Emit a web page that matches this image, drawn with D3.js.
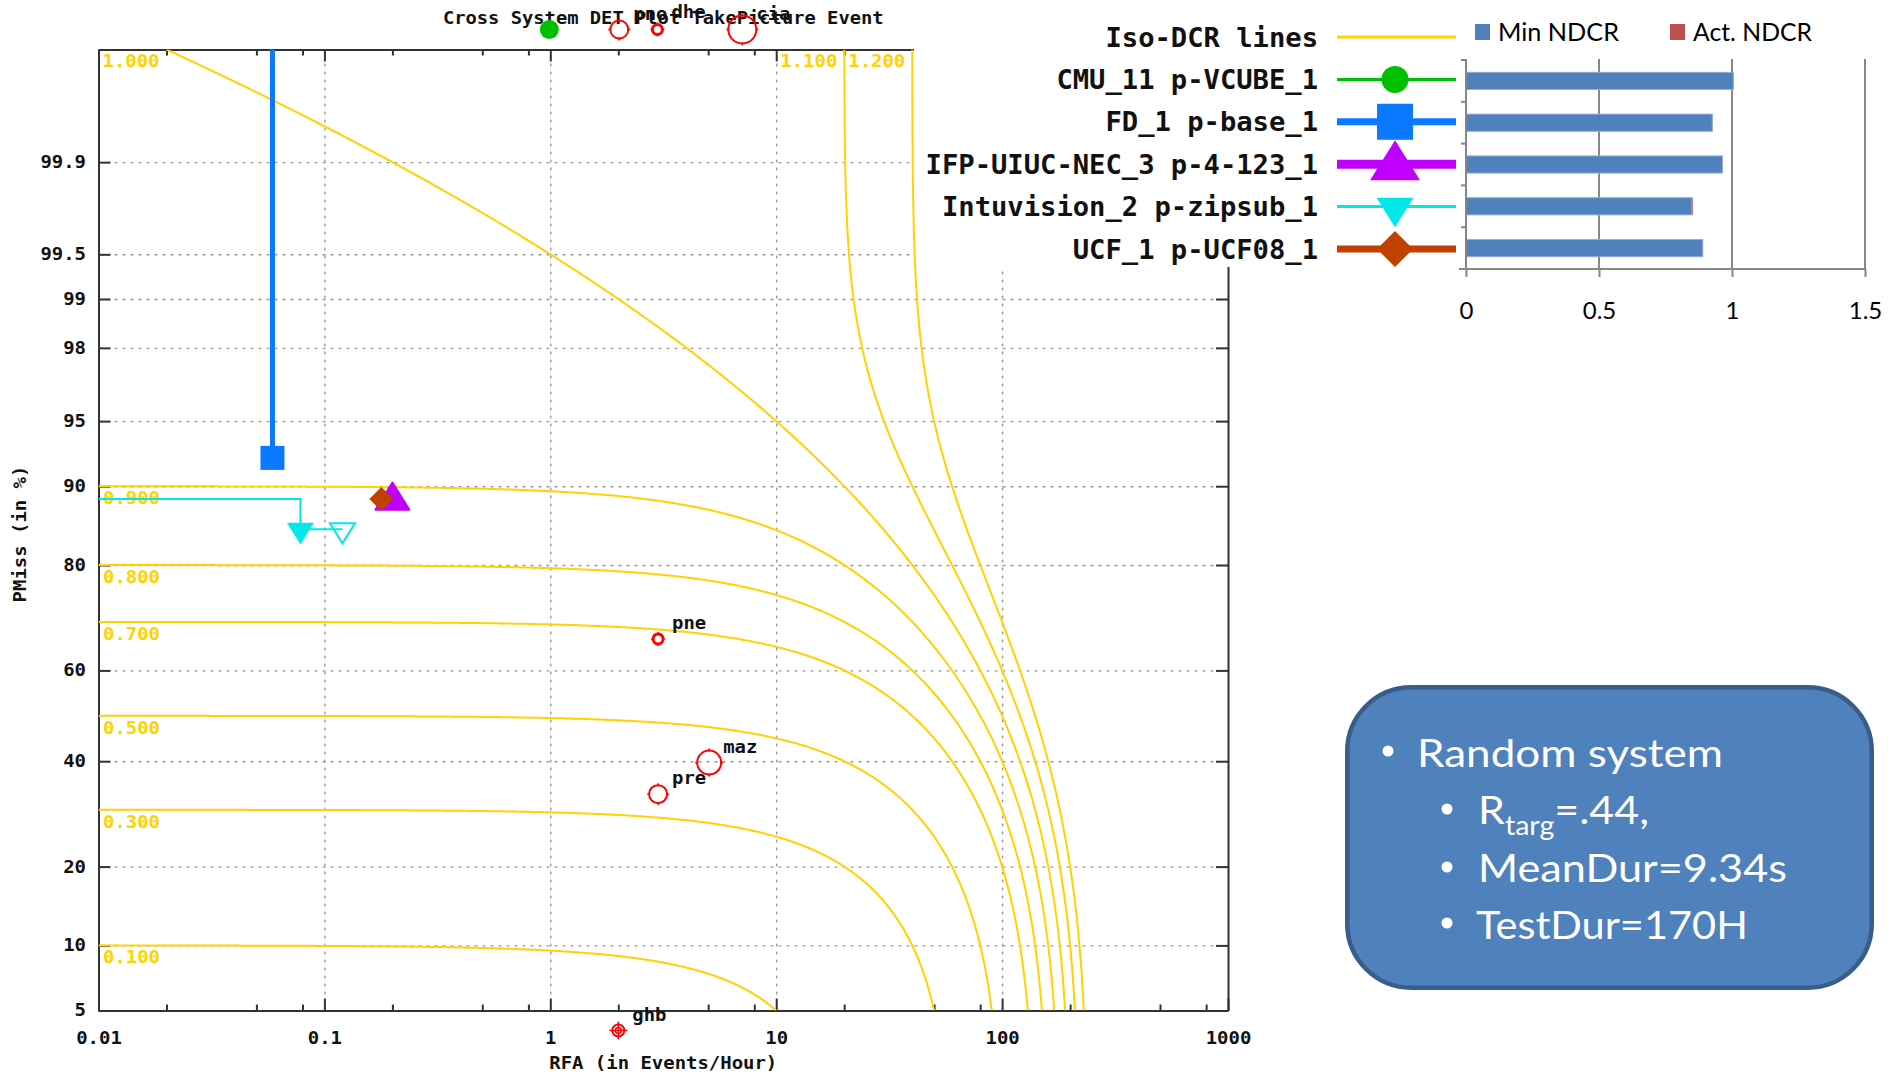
<!DOCTYPE html>
<html>
<head>
<meta charset="utf-8">
<script src="https://cdn.jsdelivr.net/npm/d3@7"></script>
<style>
  html, body { margin: 0; padding: 0; background: #ffffff; }
  svg { display: block; }
</style>
</head>
<body>
<svg id="chart" width="1900" height="1077"></svg>
<script>
// ---------------- data ----------------
// Iso-DCR levels: DCR = Pmiss + beta * RFA
const isoLevels = [0.1, 0.3, 0.5, 0.7, 0.8, 0.9, 1.0, 1.1, 1.2];
const isoLabels = ["0.100", "0.300", "0.500", "0.700", "0.800", "0.900", "1.000", "1.100", "1.200"];
const isoBeta = 0.005;            // Cfa / (Cmiss * Rtarget) = 1 / (10 * 20)

const yTickValues = [5, 10, 20, 40, 60, 80, 90, 95, 98, 99, 99.5, 99.9];   // Pmiss in %
const yTickLabels = ["5", "10", "20", "40", "60", "80", "90", "95", "98", "99", "99.5", "99.9"];
const xTickValues = [0.01, 0.1, 1, 10, 100, 1000];                           // RFA, events/hour
const xTickLabels = ["0.01", "0.1", "1", "10", "100", "1000"];
const xMinorSteps = [2, 5, 8];

const systems = ["CMU_11 p-VCUBE_1", "FD_1 p-base_1", "IFP-UIUC-NEC_3 p-4-123_1",
                 "Intuvision_2 p-zipsub_1", "UCF_1 p-UCF08_1"];
const systemColors = ["#00c000", "#0a78ff", "#c000ff", "#00e8e8", "#c04000"];

// minimum-DCR operating points (Pmiss as a fraction; 1 = every target missed)
const minPointRFA   = [0.99, 0.0589, 0.2, 0.0783, 0.1786];
const minPointPmiss = [1, 0.925, 0.887, 0.851, 0.887];

// DET curve pieces that fall inside the plotted range
const fdCurveRFA = [0.0589, 0.0589];
const fdCurvePmiss = [1, 0.925];
const intuCurveRFA = [0.01, 0.0783, 0.0783];
const intuCurvePmiss = [0.887, 0.887, 0.851];
const intuActRFA = 0.1202;
const intuActPmiss = 0.851;

// random-system results per event
const eventLabels = ["pno", "dhe", "cia", "pne", "maz", "pre", "ghb"];
const eventRFA    = [2.02, 2.98, 7.08, 3.0, 5.05, 3.0, 2.0];
const eventPmiss  = [1, 1, 1, 0.666, 0.397, 0.331, 0];
const eventWeight = [9, 5, 14, 5, 12, 9, 6];

// NDCR summary bars
const minNDCR = [1.005, 0.926, 0.964, 0.849, 0.890];
const actNDCR = [1.005, 0.926, 0.964, 0.853, 0.890];
const barTicks = [0, 0.5, 1, 1.5];
const barTickLabels = ["0", "0.5", "1", "1.5"];

// ---------------- helpers ----------------
function probit(p) {
  const a = [-3.969683028665376e+01, 2.209460984245205e+02, -2.759285104469687e+02, 1.383577518672690e+02, -3.066479806614716e+01, 2.506628277459239e+00];
  const b = [-5.447609879822406e+01, 1.615858368580409e+02, -1.556989798598866e+02, 6.680131188771972e+01, -1.328068155288572e+01];
  const c = [-7.784894002430293e-03, -3.223964580411365e-01, -2.400758277161838e+00, -2.549671324363035e+00, 4.374664141464968e+00, 2.938163982698783e+00];
  const d = [7.784695709041462e-03, 3.224671290700398e-01, 2.445134137142996e+00, 3.754408661907416e+00];
  const pl = 0.02425, ph = 1 - pl;
  let q, r;
  if (p < pl) {
    q = Math.sqrt(-2 * Math.log(p));
    return (((((c[0]*q+c[1])*q+c[2])*q+c[3])*q+c[4])*q+c[5]) / ((((d[0]*q+d[1])*q+d[2])*q+d[3])*q+1);
  }
  if (p <= ph) {
    q = p - 0.5; r = q * q;
    return (((((a[0]*r+a[1])*r+a[2])*r+a[3])*r+a[4])*r+a[5])*q / (((((b[0]*r+b[1])*r+b[2])*r+b[3])*r+b[4])*r+1);
  }
  q = Math.sqrt(-2 * Math.log(1 - p));
  return -(((((c[0]*q+c[1])*q+c[2])*q+c[3])*q+c[4])*q+c[5]) / ((((d[0]*q+d[1])*q+d[2])*q+d[3])*q+1);
}
function normCdf(z) {
  const t = 1 / (1 + 0.2316419 * Math.abs(z));
  const dens = 0.3989422804014327 * Math.exp(-z * z / 2);
  const q = dens * t * (0.319381530 + t * (-0.356563782 + t * (1.781477937 + t * (-1.821255978 + t * 1.330274429))));
  return z > 0 ? 1 - q : q;
}
const MONO = "'DejaVu Sans Mono', 'Liberation Mono', monospace";
const SANS = "Lato, 'Open Sans', 'Noto Sans', sans-serif";
// bold monospace text stretched to a fixed advance per character
function mono(sel, size, charW) {
  sel.attr("font-family", MONO).attr("font-weight", "bold").attr("font-size", size)
     .attr("textLength", function () { return this.textContent.length * charW; })
     .attr("lengthAdjust", "spacingAndGlyphs");
  return sel;
}
// custom marker shapes for d3.symbol (size = marker width)
const symTriUp = { draw(ctx, w) { const h = 0.8 * w; ctx.moveTo(0, -0.6 * h); ctx.lineTo(w / 2, 0.4 * h); ctx.lineTo(-w / 2, 0.4 * h); ctx.closePath(); } };
const symTriDown = { draw(ctx, w) { const h = 0.8 * w; ctx.moveTo(-w / 2, -0.3 * h); ctx.lineTo(w / 2, -0.3 * h); ctx.lineTo(0, 0.7 * h); ctx.closePath(); } };
const symDiamond = { draw(ctx, w) { const r = w / 2; ctx.moveTo(0, -r); ctx.lineTo(r, 0); ctx.lineTo(0, r); ctx.lineTo(-r, 0); ctx.closePath(); } };
const symSquare = { draw(ctx, w) { const r = w / 2; ctx.rect(-r, -r, w, w); } };
const symDot = { draw(ctx, w) { const rx = w / 2, ry = w * 0.55; ctx.moveTo(rx, 0); ctx.ellipse ? ctx.ellipse(0, 0, rx, ry, 0, 0, 2 * Math.PI) : ctx.arc(0, 0, rx, 0, 2 * Math.PI); } };
const markerTypes = [null, symSquare, symTriUp, symTriDown, symDiamond];

// ---------------- DET plot ----------------
const svg = d3.select("#chart");
const plot = { left: 98.5, right: 1228, top: 49.5, bottom: 1010.5 };
const x = d3.scaleLog().domain([0.01, 1000]).range([plot.left, plot.right]);
const y = d3.scaleLinear().domain([probit(0.05), probit(0.9999)]).range([plot.bottom, plot.top]);
const yP = p => p >= 1 ? plot.top - 20 : (p <= 0 ? plot.bottom + 20 : y(probit(p)));

svg.append("defs").append("clipPath").attr("id", "plotClip")
  .append("rect").attr("x", plot.left).attr("y", plot.top)
  .attr("width", plot.right - plot.left).attr("height", plot.bottom - plot.top);

const yTickZ = yTickValues.map(v => probit(v / 100));
const xMinor = [];
xTickValues.slice(0, -1).forEach(d => xMinorSteps.forEach(m => xMinor.push(d * m)));

// grid
const gridStyle = g => {
  g.select(".domain").remove();
  g.selectAll(".tick line").attr("stroke", "#9a9a9a").attr("stroke-width", 1.4).attr("stroke-dasharray", "3,5");
};
svg.append("g").attr("transform", `translate(${plot.left},0)`)
  .call(d3.axisLeft(y).tickValues(yTickZ).tickSize(-(plot.right - plot.left)).tickFormat(""))
  .call(gridStyle);
svg.append("g").attr("transform", `translate(0,${plot.bottom})`)
  .call(d3.axisBottom(x).tickValues(xTickValues.slice(1, -1)).tickSize(-(plot.bottom - plot.top)).tickFormat(""))
  .call(gridStyle);

// axes
const axisStyle = g => {
  g.attr("font-family", MONO).attr("font-size", 17).attr("font-weight", "bold");
  g.select(".domain").attr("stroke", "#333").attr("stroke-width", 2);
  g.selectAll(".tick line").attr("stroke", "#333").attr("stroke-width", 2);
  g.selectAll(".tick text").attr("fill", "#111").attr("textLength", function () { return this.textContent.length * 11.4; })
    .attr("lengthAdjust", "spacingAndGlyphs");
};
svg.append("g").attr("transform", `translate(${plot.left},0)`)
  .call(d3.axisLeft(y).tickValues(yTickZ).tickFormat((d, i) => yTickLabels[i]).tickSizeInner(-12).tickSizeOuter(0).tickPadding(12.5))
  .call(axisStyle);
svg.append("g").attr("transform", `translate(${plot.right},0)`)
  .call(d3.axisRight(y).tickValues(yTickZ).tickFormat("").tickSizeInner(-12).tickSizeOuter(0))
  .call(axisStyle);
svg.append("g").attr("transform", `translate(0,${plot.bottom})`)
  .call(d3.axisBottom(x).tickValues(xTickValues).tickFormat((d, i) => xTickLabels[i]).tickSizeInner(-12).tickSizeOuter(0).tickPadding(21.5))
  .call(axisStyle);
svg.append("g").attr("transform", `translate(0,${plot.bottom})`)
  .call(d3.axisBottom(x).tickValues(xMinor).tickFormat("").tickSizeInner(-6).tickSizeOuter(0))
  .call(axisStyle).call(g => g.select(".domain").remove());
svg.append("g").attr("transform", `translate(0,${plot.top})`)
  .call(d3.axisTop(x).tickValues(xTickValues).tickFormat("").tickSizeInner(-12).tickSizeOuter(0))
  .call(axisStyle);
svg.append("g").attr("transform", `translate(0,${plot.top})`)
  .call(d3.axisTop(x).tickValues(xMinor).tickFormat("").tickSizeInner(-6).tickSizeOuter(0))
  .call(axisStyle).call(g => g.select(".domain").remove());

// axis titles and plot title
mono(svg.append("text").attr("x", (plot.left + plot.right) / 2).attr("y", 1069).attr("text-anchor", "middle")
  .attr("fill", "#111").text("RFA (in Events/Hour)"), 17, 11.4);
mono(svg.append("text").attr("transform", "translate(26,534) rotate(-90)").attr("text-anchor", "middle")
  .attr("fill", "#111").text("PMiss (in %)"), 17, 11.4);
mono(svg.append("text").attr("x", (plot.left + plot.right) / 2).attr("y", 24).attr("text-anchor", "middle")
  .attr("fill", "#111").text("Cross System DET Plot TakePicture Event"), 17, 11.3);

// white key panel in the upper right of the plot
svg.append("rect").attr("x", 914).attr("y", 0).attr("width", 330).attr("height", 267).attr("fill", "#ffffff");

// iso-DCR curves
const ISO = "#ffd200";
function isoPoints(c) {
  const rMin = Math.max(0.01, (c - 0.9999) / isoBeta);
  const rMax = Math.min(1000, (c - 0.05) / isoBeta);
  const rs = [];
  const n = 700;
  for (let i = 0; i <= n; i++) rs.push(rMin * Math.pow(rMax / rMin, i / n));
  const zHi = probit(Math.min(0.9999, c - isoBeta * rMin));
  const zLo = probit(Math.max(0.05, c - isoBeta * rMax));
  for (let i = 1; i < n; i++) {
    const r = (c - normCdf(zLo + (zHi - zLo) * i / n)) / isoBeta;
    if (r > rMin && r < rMax) rs.push(r);
  }
  rs.sort((a, b) => a - b);
  return rs.map(r => [r, Math.min(0.9999, Math.max(0.05, c - isoBeta * r))]);
}
const curveLine = d3.line().x(d => x(d[0])).y(d => yP(d[1]));
const isoG = svg.append("g").attr("clip-path", "url(#plotClip)");
isoG.selectAll("path").data(isoLevels).join("path")
  .attr("d", c => curveLine(isoPoints(c)))
  .attr("fill", "none").attr("stroke", ISO).attr("stroke-width", 2);
const isoText = svg.append("g").selectAll("text").data(isoLevels).join("text")
  .attr("fill", ISO)
  .attr("x", c => c < 1 ? plot.left + 4.5 : x((c - 0.9999) / isoBeta) - 7)
  .attr("y", c => c < 1 ? y(probit(c)) + 18 : plot.top + 17)
  .attr("text-anchor", c => c < 1 ? "start" : "end")
  .text((c, i) => isoLabels[i]);
mono(isoText, 17, 11.4);

// system DET curves and operating points
const sysG = svg.append("g");
const clipG = sysG.append("g").attr("clip-path", "url(#plotClip)");
clipG.append("path").datum(fdCurveRFA.map((r, i) => [r, fdCurvePmiss[i]]))
  .attr("d", curveLine).attr("fill", "none").attr("stroke", systemColors[1]).attr("stroke-width", 5);
clipG.append("path").datum(intuCurveRFA.map((r, i) => [r, intuCurvePmiss[i]]))
  .attr("d", curveLine).attr("fill", "none").attr("stroke", systemColors[3]).attr("stroke-width", 2);
clipG.append("path").datum([[minPointRFA[3], minPointPmiss[3]], [intuActRFA, intuActPmiss]])
  .attr("d", curveLine).attr("fill", "none").attr("stroke", systemColors[3]).attr("stroke-width", 2);

const plotMarkerSize = [19, 24, 34, 27, 24];
const pointSym = (i, w) => i === 0 ? d3.symbol().type(symDot).size(w)() : d3.symbol().type(markerTypes[i]).size(w)();
sysG.selectAll("path.pt").data(systems).join("path").attr("class", "pt")
  .attr("transform", (s, i) => `translate(${x(minPointRFA[i])},${yP(minPointPmiss[i])})`)
  .attr("d", (s, i) => pointSym(i, plotMarkerSize[i]))
  .attr("fill", (s, i) => systemColors[i])
  .attr("stroke", (s, i) => systemColors[i]).attr("stroke-width", (s, i) => i === 2 ? 2 : 0)
  .attr("stroke-linejoin", "round");
sysG.append("path")
  .attr("transform", `translate(${x(intuActRFA)},${yP(intuActPmiss)})`)
  .attr("d", d3.symbol().type(symTriDown).size(25)())
  .attr("fill", "none").attr("stroke", systemColors[3]).attr("stroke-width", 2);

// random-system event points
const rScale = d3.scaleLinear().domain([0, 10]).range([0, 10]);
const evG = svg.append("g").selectAll("g").data(eventLabels).join("g")
  .attr("transform", (l, i) => `translate(${x(eventRFA[i])},${yP(eventPmiss[i])})`);
evG.append("circle").attr("r", (l, i) => rScale(eventWeight[i]))
  .attr("fill", "none").attr("stroke", "#ff0000").attr("stroke-width", (l, i) => eventWeight[i] <= 5 ? 3 : 2);
evG.each(function (l, i) {
  const r = rScale(eventWeight[i]);
  const g = d3.select(this);
  const arm = eventPmiss[i] <= 0 ? r + 3 : r + 2;
  const inner = eventPmiss[i] <= 0 ? 0 : r - 1;
  [[0, -1], [0, 1], [-1, 0], [1, 0]].forEach(([dx, dy]) => {
    g.append("line").attr("x1", dx * inner).attr("y1", dy * inner).attr("x2", dx * arm).attr("y2", dy * arm)
      .attr("stroke", "#ff0000").attr("stroke-width", 1.5);
  });
  if (eventPmiss[i] <= 0) g.append("circle").attr("r", r / 2).attr("fill", "none").attr("stroke", "#ff0000").attr("stroke-width", 1.5);
});
// labels of the off-scale events sit in the title band; two of them ride a little higher
mono(evG.append("text").attr("x", 14).attr("y", (l, i) => (i === 1 ? -12 : -10)).attr("fill", "#111").text(l => l), 17, 11.4);

// key (legend) for the DET plot
const key = svg.append("g");
const keyRows = ["Iso-DCR lines"].concat(systems);
const keyColors = [ISO].concat(systemColors);
const keyLineW = [3, 3, 7, 9, 3, 7];
const keyMarkerW = [0, 27, 36, 50, 37, 36];
const keyY = i => 37 + i * 42.4;
mono(key.selectAll("text").data(keyRows).join("text")
  .attr("x", 1318).attr("y", (t, i) => keyY(i) + 9.5).attr("text-anchor", "end").attr("fill", "#111")
  .text(t => t), 26, 16.35);
key.selectAll("line").data(keyRows).join("line")
  .attr("x1", 1337).attr("x2", 1456).attr("y1", (t, i) => keyY(i)).attr("y2", (t, i) => keyY(i))
  .attr("stroke", (t, i) => keyColors[i]).attr("stroke-width", (t, i) => keyLineW[i]);
key.selectAll("path").data(systems).join("path")
  .attr("transform", (s, i) => `translate(1395,${keyY(i + 1)})`)
  .attr("d", (s, i) => pointSym(i, keyMarkerW[i + 1]))
  .attr("fill", (s, i) => systemColors[i]);

// ---------------- NDCR bar chart ----------------
const bx = d3.scaleLinear().domain([0, 1.5]).range([1466, 1865]);
const by = d3.scaleBand().domain(systems).range([60, 269]).paddingInner(0.59).paddingOuter(0.295);
const bar = svg.append("g");
bar.selectAll("line.grid").data(barTicks.slice(1)).join("line").attr("class", "grid")
  .attr("x1", d => bx(d)).attr("x2", d => bx(d)).attr("y1", 59).attr("y2", 269)
  .attr("stroke", "#878787").attr("stroke-width", 2);
bar.selectAll("rect.act").data(systems).join("rect").attr("class", "act")
  .attr("x", bx(0)).attr("y", s => by(s)).attr("height", by.bandwidth())
  .attr("width", (s, i) => bx(actNDCR[i]) - bx(0)).attr("fill", "#c0504d");
bar.selectAll("rect.min").data(systems).join("rect").attr("class", "min")
  .attr("x", bx(0)).attr("y", s => by(s)).attr("height", by.bandwidth())
  .attr("width", (s, i) => bx(minNDCR[i]) - bx(0)).attr("fill", "#4f81bd")
  .attr("stroke", "#93b0d8").attr("stroke-width", 1);
bar.append("g").attr("transform", "translate(0,269)")
  .call(d3.axisBottom(bx).tickValues(barTicks).tickFormat((d, i) => barTickLabels[i]).tickSizeInner(8).tickSizeOuter(0).tickPadding(30))
  .call(g => {
    g.select(".domain").attr("stroke", "#878787").attr("stroke-width", 2).attr("d", "M1459,0H1866");
    g.selectAll(".tick line").attr("stroke", "#878787").attr("stroke-width", 2);
    g.selectAll(".tick text").attr("font-family", SANS).attr("font-size", 24).attr("fill", "#000").attr("dy", "0.5em");
  });
bar.append("line").attr("x1", bx(0)).attr("x2", bx(0)).attr("y1", 59).attr("y2", 269)
  .attr("stroke", "#878787").attr("stroke-width", 2);
bar.selectAll("line.cat").data(d3.range(systems.length + 1)).join("line").attr("class", "cat")
  .attr("x1", bx(0) - 5).attr("x2", bx(0)).attr("y1", k => 60 + k * by.step()).attr("y2", k => 60 + k * by.step())
  .attr("stroke", "#878787").attr("stroke-width", 2);
// bar legend
const barLegend = [["Min NDCR", "#4f81bd", 1475], ["Act. NDCR", "#c0504d", 1670]];
bar.selectAll("rect.leg").data(barLegend).join("rect").attr("class", "leg")
  .attr("x", d => d[2]).attr("y", 24).attr("width", 15).attr("height", 16).attr("fill", d => d[1]);
bar.selectAll("text.leg").data(barLegend).join("text").attr("class", "leg")
  .attr("x", d => d[2] + 23).attr("y", 41).attr("font-family", SANS).attr("font-size", 25).attr("fill", "#000")
  .attr("textLength", (d, i) => i === 0 ? 121 : 119).attr("lengthAdjust", "spacingAndGlyphs")
  .text(d => d[0]);

// ---------------- note box ----------------
const note = svg.append("g");
note.append("rect").attr("x", 1347.25).attr("y", 687.25).attr("width", 524.5).attr("height", 300.5)
  .attr("rx", 64).attr("ry", 64).attr("fill", "#4f81bd").attr("stroke", "#385d8a").attr("stroke-width", 4.5);
const noteLines = [
  { x: 1417, y: 767, w: 306, bullet: [1388, 751] },
  { x: 1478, y: 824, w: 171, bullet: [1447, 809] },
  { x: 1478, y: 882, w: 309, bullet: [1447, 867] },
  { x: 1476, y: 939, w: 272, bullet: [1447, 923] }
];
noteLines.forEach((ln, i) => {
  note.append("circle").attr("cx", ln.bullet[0]).attr("cy", ln.bullet[1]).attr("r", 5.5).attr("fill", "#ffffff");
  const t = note.append("text").attr("font-family", SANS).attr("font-size", 39).attr("fill", "#ffffff");
  if (i === 0) t.text("Random system");
  if (i === 1) {
    t.append("tspan").text("R");
    t.append("tspan").attr("font-size", 26).attr("dy", 11).text("targ");
    t.append("tspan").attr("dy", -11).text("=.44,");
  }
  if (i === 2) t.text("MeanDur=9.34s");
  if (i === 3) t.text("TestDur=170H");
  const len = t.node().getComputedTextLength();
  t.attr("transform", `translate(${ln.x},${ln.y}) scale(${ln.w / len},1)`);
});
</script>
</body>
</html>
